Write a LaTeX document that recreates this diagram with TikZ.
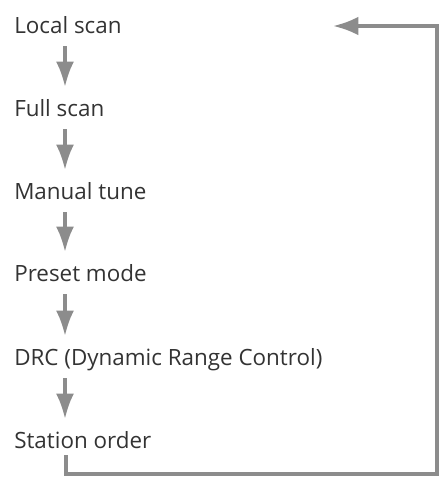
\documentclass[tikz,border=0pt]{standalone}
\usepackage{fontspec}
\setmainfont{Open Sans}
\usetikzlibrary{arrows.meta,calc}
\definecolor{arrowgrey}{HTML}{8C8C8C}
\definecolor{textgrey}{HTML}{333333}
\begin{document}
\begin{tikzpicture}[x=0.75pt,y=-0.75pt,
  item/.style={anchor=base west,inner sep=0pt,font=\fontsize{16.8pt}{19pt}\selectfont,text=textgrey},
  flow/.style={draw=arrowgrey,line width=2.6pt,-{Latex[length=19pt,width=13.5pt]}},
  back/.style={draw=arrowgrey,line width=2.6pt,line join=miter,-{Latex[length=19pt,width=14pt]}}]
\useasboundingbox (0,0) rectangle (443,482);
\node[item] (ls) at (14,33) {Local scan};
\node[item] (fs) at (14,116) {Full scan};
\node[item] (mt) at (14,199) {Manual tune};
\node[item] (pm) at (14,281) {Preset mode};
\node[item] (drc) at (14,365) {DRC (Dynamic Range Control)};
\node[item] (so) at (14,448) {Station order};
\draw[flow] ($(ls.base west)+(51,13)$) -- ($(fs.base west)+(51,-29)$);
\draw[flow] ($(fs.base west)+(51,13)$) -- ($(mt.base west)+(51,-29)$);
\draw[flow] ($(mt.base west)+(51,13)$) -- ($(pm.base west)+(51,-29)$);
\draw[flow] ($(pm.base west)+(51,13)$) -- ($(drc.base west)+(51,-29)$);
\draw[flow] ($(drc.base west)+(51,13)$) -- ($(so.base west)+(51,-29)$);
\draw[back] ($(so.base west)+(52,7)$) -- ++(0,19) -| ($(ls.base west)+(423,-7)$) -- ($(ls.base west)+(319,-7)$);
\end{tikzpicture}
\end{document}
